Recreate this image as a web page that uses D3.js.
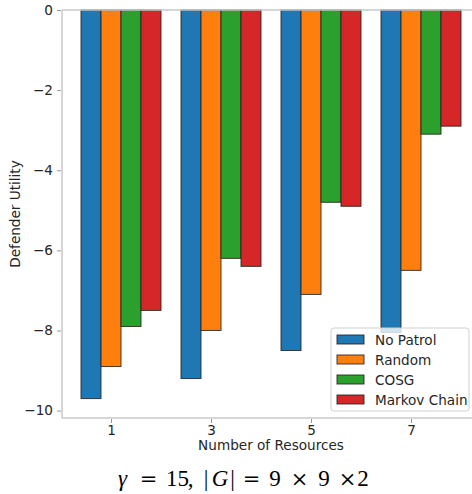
<!DOCTYPE html>
<html>
<head>
<meta charset="utf-8">
<script src="https://cdn.jsdelivr.net/npm/d3@7"></script>
<style>
  body { margin: 0; background: #fff; }
  svg { display: block; font-family: "DejaVu Sans", sans-serif; }
</style>
</head>
<body>
<div id="chart"></div>
<script>
    'use strict';
    // Data
    var resources = [1, 3, 5, 7];
    var seriesNames = ['No Patrol', 'Random', 'COSG', 'Markov Chain'];
    var noPatrol = [-9.7, -9.2, -8.5, -8.05];
    var random = [-8.9, -8.0, -7.1, -6.5];
    var cosg = [-7.9, -6.2, -4.8, -3.1];
    var markov = [-7.5, -6.4, -4.9, -2.9];
    var yTicks = [0, -2, -4, -6, -8, -10];
    var colors = ['#1f77b4', '#ff7f0e', '#2ca02c', '#d62728'];

    var seriesValues = [noPatrol, random, cosg, markov];

    // Layout
    var width = 472, height = 494;
    var plot = { left: 62, top: 10, right: 480, bottom: 418 };
    var barWidth = 0.4;
    var fontSize = '13.6px';

    var svg = d3.select('#chart').append('svg')
        .attr('width', width).attr('height', height);

    // Scales
    var xScale = d3.scaleLinear().domain([0.02, 8.38]).range([plot.left, plot.right]);
    var yScale = d3.scaleLinear().domain([-10.185, 0]).range([plot.bottom, plot.top]);

    // Bars
    var bars = [];
    seriesValues.forEach(function(vals, i) {
        vals.forEach(function(v, j) {
            bars.push({ s: i, x: resources[j] - 0.6 + i * barWidth, v: v });
        });
    });
    svg.append('g').attr('class', 'bars')
        .selectAll('rect').data(bars).enter().append('rect')
        .attr('x', function(d) { return xScale(d.x); })
        .attr('width', function(d) { return xScale(d.x + barWidth) - xScale(d.x); })
        .attr('y', yScale(0))
        .attr('height', function(d) { return yScale(d.v) - yScale(0); })
        .attr('fill', function(d) { return colors[d.s]; })
        .attr('stroke', '#222')
        .attr('stroke-opacity', 0.85)
        .attr('stroke-width', 1);

    // Spines
    var spine = '#c8c8c8';
    [[plot.left, plot.top, plot.right, plot.top],
     [plot.left, plot.bottom, plot.right, plot.bottom],
     [plot.left, plot.top, plot.left, plot.bottom]].forEach(function(s) {
        svg.append('line')
            .attr('x1', s[0]).attr('y1', s[1]).attr('x2', s[2]).attr('y2', s[3])
            .attr('stroke', spine).attr('stroke-width', 1.5);
    });

    // Axes
    var yAxis = svg.append('g')
        .attr('transform', 'translate(' + (plot.left - 1) + ',0)')
        .call(d3.axisLeft(yScale).tickValues(yTicks).tickSize(4).tickPadding(4)
            .tickFormat(function(d) { return d === 0 ? '0' : '\u2212' + Math.abs(d); }));
    var xAxis = svg.append('g')
        .attr('transform', 'translate(0,' + (plot.bottom + 1) + ')')
        .call(d3.axisBottom(xScale).tickValues(resources).tickSize(4).tickPadding(2)
            .tickFormat(d3.format('d')));
    [xAxis, yAxis].forEach(function(a) {
        a.select('.domain').remove();
        a.selectAll('line').attr('stroke', '#999');
        a.selectAll('text')
            .style('font-family', '"DejaVu Sans", sans-serif')
            .style('font-size', fontSize)
            .attr('fill', '#262626');
    });

    // Axis titles
    svg.append('text')
        .attr('transform', 'translate(20,' + ((plot.top + plot.bottom) / 2) + ') rotate(-90)')
        .attr('text-anchor', 'middle')
        .style('font-size', fontSize)
        .attr('fill', '#262626')
        .text('Defender Utility');
    svg.append('text')
        .attr('x', 271).attr('y', 450)
        .attr('text-anchor', 'middle')
        .style('font-size', fontSize)
        .attr('fill', '#262626')
        .text('Number of Resources');

    // Caption (math-style spacing: [text, centre x, italic, operator font])
    var capPieces = [
        ['\u03b3', 122.5, true, false], ['=', 148.5, false, true], ['15', 177.5, false, false],
        [',', 190.5, false, false], ['|', 206, false, false], ['G', 220, true, false],
        ['|', 232.5, false, false], ['=', 251.5, false, true], ['9', 275, false, false],
        ['\u00d7', 299.5, false, true], ['9', 324, false, false], ['\u00d7', 347.5, false, true],
        ['2', 363, false, false]
    ];
    svg.append('g').selectAll('text').data(capPieces).enter().append('text')
        .attr('x', function(d) { return d[1]; })
        .attr('y', 486)
        .attr('text-anchor', 'middle')
        .style('font-family', function(d) {
            return d[3] ? '"DejaVu Serif", serif' : '"Liberation Serif", serif';
        })
        .style('font-size', function(d) { return d[3] ? '21px' : '23px'; })
        .style('font-style', function(d) { return d[2] ? 'italic' : 'normal'; })
        .attr('fill', '#000')
        .text(function(d) { return d[0]; });

    // Legend
    var legend = svg.append('g').attr('transform', 'translate(331,328)');
    legend.append('rect')
        .attr('width', 138).attr('height', 83)
        .attr('rx', 3)
        .attr('fill', '#fff').attr('fill-opacity', 0.8)
        .attr('stroke', '#d0d0d0');
    var items = legend.selectAll('g.item').data(seriesNames).enter().append('g')
        .attr('class', 'item')
        .attr('transform', function(d, i) { return 'translate(6,' + (7 + i * 20) + ')'; });
    items.append('rect')
        .attr('width', 27).attr('height', 9)
        .attr('fill', function(d, i) { return colors[i]; })
        .attr('stroke', '#222').attr('stroke-opacity', 0.85);
    items.append('text')
        .attr('x', 38).attr('y', 9.5)
        .style('font-size', fontSize)
        .attr('fill', '#262626')
        .text(function(d) { return d; });
</script>
</body>
</html>
